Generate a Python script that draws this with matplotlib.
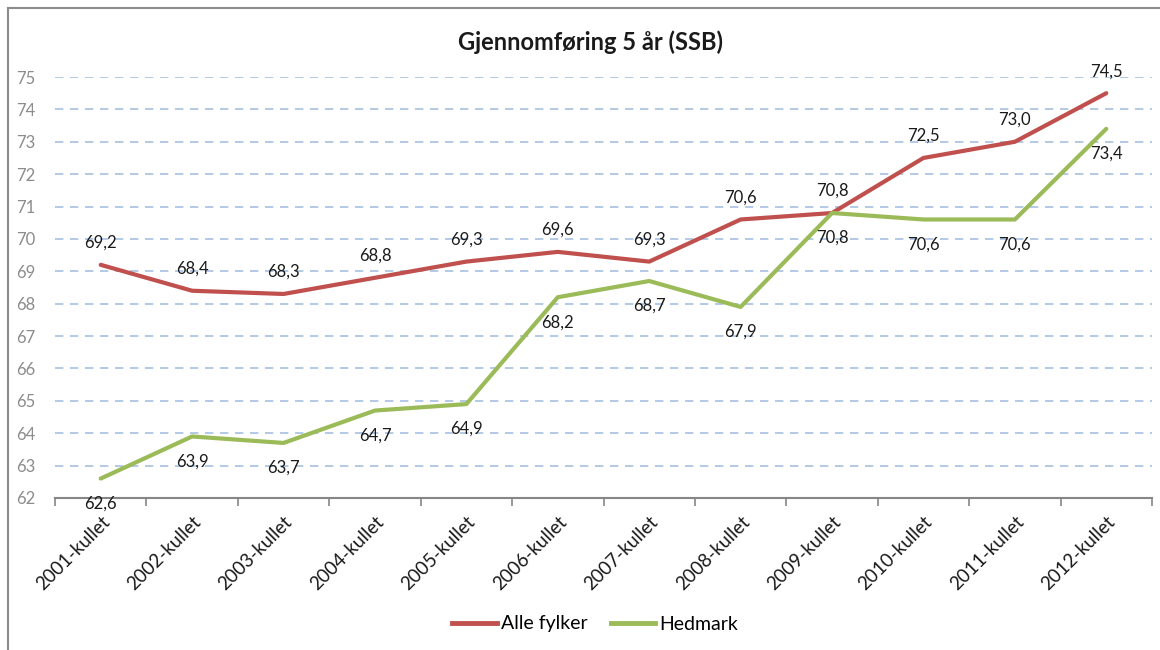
import matplotlib
matplotlib.use("Agg")
import matplotlib.pyplot as plt
from matplotlib.lines import Line2D

plt.rcParams['font.family'] = ['Lato', 'DejaVu Sans']

categories = ["2001-kullet", "2002-kullet", "2003-kullet", "2004-kullet", "2005-kullet",
              "2006-kullet", "2007-kullet", "2008-kullet", "2009-kullet", "2010-kullet",
              "2011-kullet", "2012-kullet"]
alle_fylker = [69.2, 68.4, 68.3, 68.8, 69.3, 69.6, 69.3, 70.6, 70.8, 72.5, 73.0, 74.5]
hedmark = [62.6, 63.9, 63.7, 64.7, 64.9, 68.2, 68.7, 67.9, 70.8, 70.6, 70.6, 73.4]
yticks = list(range(62, 76))

RED = "#C0504D"
GREEN = "#9BBB59"

W, H = 1160, 650
fig = plt.figure(figsize=(W / 100, H / 100), dpi=100)
ax = fig.add_axes([55 / W, 1 - 498 / H, (1152 - 55) / W, (498 - 77) / H])

x = list(range(len(categories)))
ax.plot(x, alle_fylker, color=RED, lw=3.0, solid_capstyle='round', zorder=3)
ax.plot(x, hedmark, color=GREEN, lw=3.0, solid_capstyle='round', zorder=3)

def fmt(v):
    return f"{v:.1f}".replace(".", ",")

for xi, v in zip(x, alle_fylker):
    ax.annotate(fmt(v), (xi, v), xytext=(0, 22), textcoords='offset pixels',
                ha='center', va='center', fontsize=12, color='#1a1a1a', zorder=4)
for xi, v in zip(x, hedmark):
    ax.annotate(fmt(v), (xi, v), xytext=(0, -25), textcoords='offset pixels',
                ha='center', va='center', fontsize=12, color='#1a1a1a', zorder=4)

ax.set_xlim(-0.5, len(categories) - 0.5)
ax.set_ylim(62, 75)
ax.set_yticks(yticks)
ax.set_yticklabels([str(t) for t in yticks], color='#8c8c8c', fontsize=12)
ax.tick_params(axis='y', length=0, pad=14)

ax.set_xticks([i - 0.5 for i in range(len(categories) + 1)], minor=False)
ax.set_xticklabels([])
ax.tick_params(axis='x', length=6, color='#868686', width=1.2, direction='out')
ax.set_xticks(x, minor=True)
ax.set_xticklabels(categories, minor=True, rotation=45, ha='right',
                   rotation_mode='anchor', fontsize=13.5, color='#1a1a1a')
ax.tick_params(axis='x', which='minor', length=0, pad=11)

for t in yticks[1:]:
    ax.axhline(t, color='#A7C0E0', lw=1.2, ls=(0, (5, 4)), zorder=1)

for s in ['top', 'right', 'left']:
    ax.spines[s].set_visible(False)
ax.spines['bottom'].set_color('#868686')
ax.spines['bottom'].set_linewidth(1.5)

fig.text(591 / W, 1 - 42 / H, "Gjennomføring 5 år (SSB)", ha='center', va='center',
         fontsize=17, fontweight='bold', color='#1a1a1a')

handles = [Line2D([], [], color=RED, lw=3.5), Line2D([], [], color=GREEN, lw=3.5)]
fig.legend(handles, ["Alle fylker", "Hedmark"], loc='center', bbox_to_anchor=(595 / W, 1 - 624 / H),
           ncol=2, frameon=False, fontsize=14, handlelength=2.3, handletextpad=0.2,
           columnspacing=1.2)

# outer frame (top and left visible)
fig.add_artist(Line2D([8 / W, 1], [1 - 8 / H, 1 - 8 / H], color='#8c8c8c', lw=1.5,
                      transform=fig.transFigure))
fig.add_artist(Line2D([8 / W, 8 / W], [0, 1 - 8 / H], color='#8c8c8c', lw=1.5,
                      transform=fig.transFigure))

fig.savefig("out.png", dpi=100, facecolor='white')
